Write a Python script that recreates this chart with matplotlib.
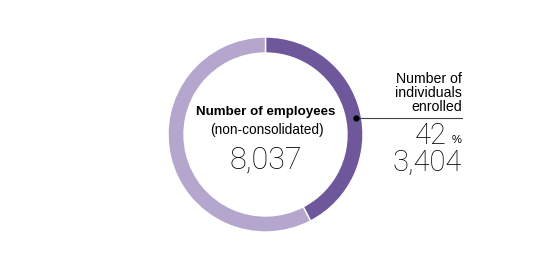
import matplotlib.pyplot as plt

# data
total = 8037
enrolled = 3404
share_label = "42"
segments = [enrolled, total - enrolled]
colors = ["#6e589b", "#b4a6cc"]

fig = plt.figure(figsize=(5.35, 2.70), dpi=100)
ax = fig.add_axes([0, 0, 1, 1])

ax.pie(segments, colors=colors, startangle=90, counterclock=False,
       radius=97.5, center=(265.5, 135.5), frame=True,
       wedgeprops=dict(width=16, edgecolor="white", linewidth=1))

ax.set_xlim(0, 535)
ax.set_ylim(0, 270)
ax.set_aspect("equal")
ax.axis("off")

# centre labels
ax.text(266, 158, "Number of employees", ha="center", va="center",
        fontsize=9.6, fontweight="bold", family="Liberation Sans", color="#000000")
ax.text(267, 140, "(non-consolidated)", ha="center", va="center",
        fontsize=9.8, family="Liberation Sans", color="#000000")
ax.text(266, 110, f"{total:,}", ha="center", va="center",
        fontsize=22, fontweight="light", family="Roboto", color="#000000")

# leader line
ax.plot([356, 462], [152, 152], color="#444444", lw=0.8)
ax.plot(356, 152, "o", color="#000000", ms=3.5)

# right labels
ax.text(462, 177, "Number of\nindividuals\nenrolled", ha="right", va="center",
        fontsize=10.2, family="Liberation Sans", color="#000000", linespacing=0.98)
ax.text(447, 134, share_label, ha="right", va="center",
        fontsize=21, fontweight="light", family="Roboto", color="#000000")
ax.text(462, 130, "%", ha="right", va="center",
        fontsize=8, family="Liberation Sans", color="#000000")
ax.text(462, 107, f"{enrolled:,}", ha="right", va="center",
        fontsize=21, fontweight="light", family="Roboto", color="#000000")

fig.savefig("out.png", dpi=100)
